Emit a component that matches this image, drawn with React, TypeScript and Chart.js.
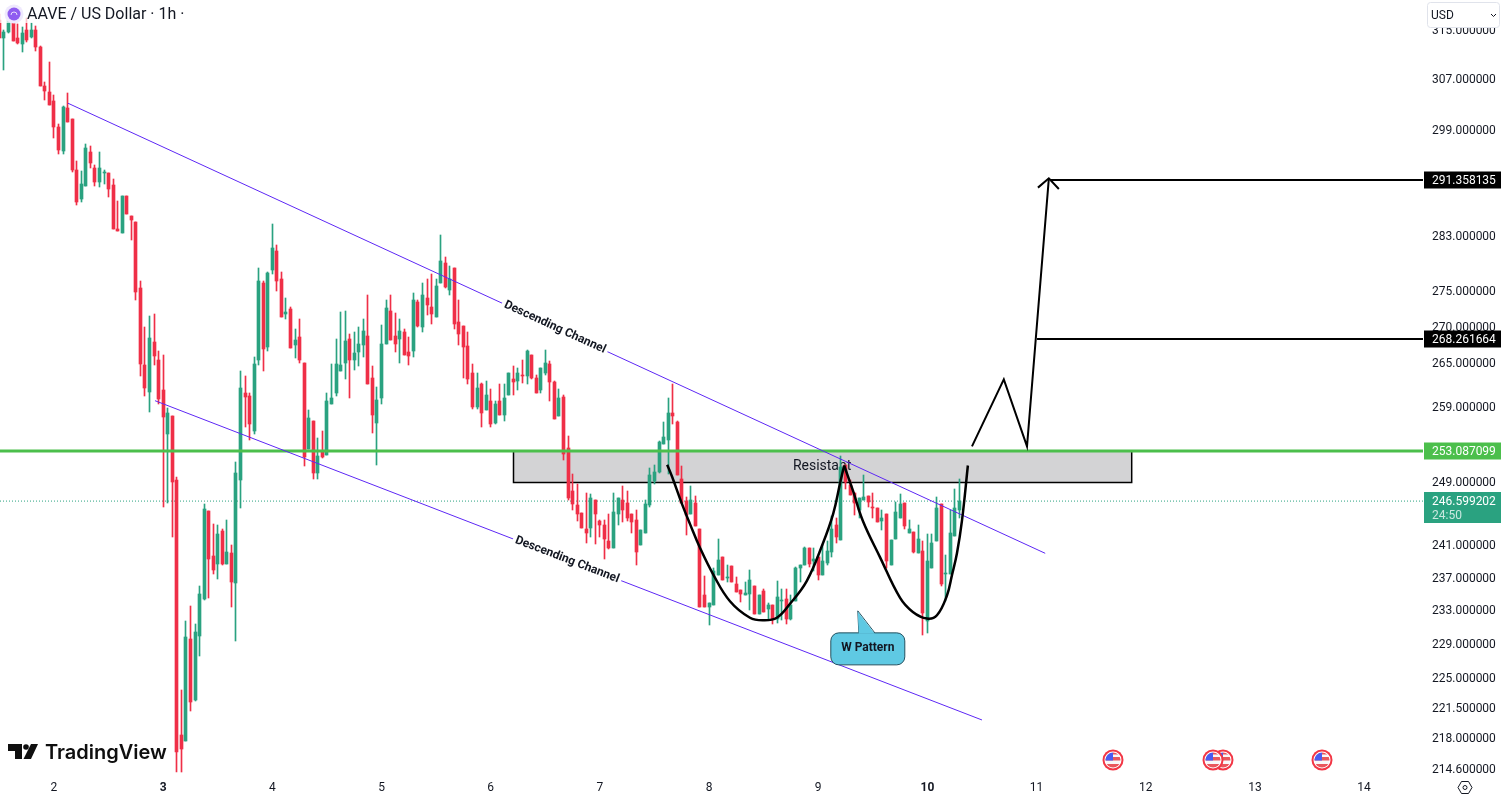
import React, { useEffect, useRef } from "react";
import { Chart, registerables } from "chart.js";

Chart.register(...registerables);

const opens = [316.6,313.6,314.7,316.2,313.6,312.6,314.9,313.8,314.9,312.2,306.0,305.0,303.5,299.5,295.8,302.4,300.7,292.8,288.5,290.4,295.6,293.2,291.0,292.4,292.4,290.6,284.0,283.5,289.0,285.9,285.1,275.5,264.6,261.0,267.8,265.3,261.3,255.4,257.8,249.3,218.4,217.7,229.5,222.4,229.9,234.4,245.3,239.7,238.7,242.8,238.7,240.1,236.3,249.3,260.8,260.5,255.8,265.3,276.2,267.1,278.0,280.8,276.8,271.7,272.4,267.4,268.5,265.0,253.4,257.1,250.2,253.0,252.6,259.4,260.8,263.8,264.9,268.2,265.4,266.4,267.4,268.7,262.9,256.8,260.1,267.5,272.2,268.7,268.2,269.2,266.4,266.6,273.4,269.9,274.1,272.8,271.4,276.2,279.1,275.2,278.3,270.7,270.1,267.3,263.6,259.0,262.0,258.5,259.8,256.8,259.7,257.9,260.6,262.7,262.5,263.3,263.1,266.0,262.9,261.3,263.6,264.8,262.4,257.8,260.3,253.5,247.9,246.1,245.1,243.0,243.2,246.7,244.0,243.6,241.6,240.7,244.9,246.8,246.3,245.0,244.2,241.0,242.5,246.1,249.2,250.4,254.0,254.6,258.2,257.0,249.4,246.6,245.0,246.3,243.1,234.8,233.4,233.6,237.3,239.5,237.0,238.4,236.2,235.5,234.8,235.0,236.0,232.5,235.4,233.2,233.7,232.0,234.1,234.4,232.0,234.1,238.2,238.6,240.7,239.0,239.6,237.3,238.8,240.2,243.5,241.7,251.3,248.7,247.6,245.5,246.8,247.2,245.8,245.7,244.0,245.0,238.5,241.8,244.5,246.3,242.5,242.7,240.1,240.3,231.7,238.2,241.6,246.2,237.4,237.4,242.2,245.4];
const highs = [317.5,314.9,318.0,316.5,315.9,315.4,316.9,316.1,315.6,312.3,306.5,309.7,304.5,299.9,302.7,304.8,300.7,294.2,292.7,296.8,296.5,293.7,295.6,292.8,292.4,291.5,288.2,289.0,289.0,286.0,285.1,276.4,270.0,271.5,271.7,266.6,266.0,258.8,257.8,249.7,223.6,231.7,233.5,231.3,235.9,246.2,245.3,243.7,243.5,243.1,244.2,241.0,251.7,263.9,263.2,260.8,265.7,278.4,276.5,277.8,284.8,281.7,277.8,274.0,272.8,269.6,271.1,265.0,258.6,257.1,254.8,255.8,260.8,264.8,268.2,272.1,272.2,268.9,269.2,269.9,271.1,274.5,264.5,261.6,270.2,273.8,274.5,271.9,271.0,269.6,268.5,274.7,273.7,276.2,276.7,277.4,276.8,283.1,280.0,278.6,278.3,273.7,270.1,269.2,264.8,263.6,262.2,262.5,261.4,259.8,262.0,262.0,263.6,264.5,264.3,265.3,266.7,266.0,263.3,264.2,266.7,265.2,262.5,261.4,260.6,255.1,250.1,248.8,245.1,247.6,247.5,246.7,244.2,244.2,245.0,247.6,247.0,248.5,247.9,245.0,245.4,242.9,246.7,250.9,251.3,254.4,256.9,260.1,262.0,257.1,251.1,247.1,248.6,247.2,243.1,237.2,233.9,238.2,241.8,239.5,238.6,238.4,237.1,235.5,236.5,237.9,236.0,234.8,235.6,233.9,233.7,236.6,235.6,235.6,234.9,238.3,238.6,240.8,240.7,240.7,239.6,241.0,241.6,244.7,244.4,252.5,251.3,249.3,247.6,247.0,250.0,247.2,247.6,245.7,245.4,245.0,241.7,246.5,247.5,246.3,244.2,242.7,243.6,241.6,242.4,242.4,247.1,246.2,239.8,245.5,248.1,249.5];
const lows = [313.6,308.4,314.4,313.1,312.6,311.3,313.0,313.6,311.5,306.0,303.7,302.9,297.7,295.3,295.3,300.2,292.5,287.6,288.0,290.4,293.2,290.4,290.3,290.8,288.8,284.1,283.7,283.5,286.3,282.4,273.7,263.2,260.5,258.3,264.6,259.3,245.8,246.3,242.0,214.2,214.2,217.7,221.1,222.3,227.5,234.3,234.5,237.4,236.8,238.6,238.7,233.4,229.3,245.7,256.3,254.6,255.3,264.6,263.8,266.6,277.4,275.1,271.4,271.0,267.0,265.6,264.9,251.1,253.4,249.4,249.5,252.2,252.6,259.4,260.5,263.8,262.7,260.2,264.0,264.5,265.7,262.0,255.5,251.3,259.3,267.5,268.1,266.4,264.9,266.1,264.6,265.7,270.0,269.2,271.6,270.4,271.4,276.2,275.4,274.5,269.7,267.4,262.9,262.1,258.7,258.7,256.3,258.5,256.3,256.7,257.9,257.1,260.6,260.6,261.2,262.2,262.1,262.7,260.9,260.9,263.3,259.7,257.4,257.8,251.9,246.8,245.5,244.0,243.2,241.3,242.1,241.2,242.0,239.3,240.6,240.7,243.6,243.9,244.0,242.5,238.5,241.0,242.5,245.9,248.8,250.2,254.0,250.1,256.7,250.0,246.3,242.3,245.0,243.4,233.4,233.4,231.2,233.6,237.3,236.7,236.4,236.4,235.2,234.0,234.8,233.0,232.5,232.5,232.8,231.9,231.4,231.5,231.8,231.4,231.8,234.1,236.4,238.5,238.3,237.8,236.7,237.3,238.6,239.6,241.3,241.7,248.1,247.4,244.8,244.4,246.8,245.8,244.5,243.9,242.9,238.2,238.5,241.8,244.5,243.0,242.5,240.1,240.1,230.0,230.3,238.2,241.6,236.0,234.1,237.4,242.2,244.5];
const closes = [313.6,314.7,316.6,313.1,312.8,314.4,313.3,314.9,312.2,306.0,305.1,302.9,299.5,295.9,302.6,300.2,292.8,288.1,290.7,296.3,293.9,291.0,293.2,292.6,290.0,284.1,283.7,289.0,286.3,285.3,274.9,264.8,261.5,268.4,265.9,260.0,257.6,258.2,249.0,216.5,216.8,229.8,222.2,230.4,235.0,245.6,239.3,237.9,242.4,238.7,240.2,236.5,250.2,261.5,260.3,256.7,264.8,276.5,266.8,277.6,281.2,276.4,271.4,272.1,267.0,268.1,265.3,252.3,257.5,250.2,252.5,252.3,259.8,260.2,264.8,264.6,268.0,265.3,266.3,267.5,269.4,262.0,257.9,259.9,267.5,272.6,268.1,267.5,269.4,266.1,265.9,273.7,270.1,274.4,273.1,271.8,275.8,279.4,275.6,276.8,270.3,268.9,267.1,262.8,259.0,261.5,258.2,260.6,256.7,259.4,257.9,260.2,263.5,262.4,263.5,263.2,266.6,262.9,260.9,264.2,264.9,262.4,257.4,260.1,252.7,247.0,246.2,244.9,243.2,242.6,247.0,244.9,243.6,241.8,240.7,245.2,247.0,245.4,244.4,243.9,240.2,242.9,246.2,250.0,250.4,254.3,255.0,258.1,257.8,250.0,246.3,244.8,246.8,243.4,233.4,233.4,233.9,237.8,239.2,236.7,237.1,236.4,235.2,235.0,235.1,236.7,232.5,234.8,232.8,233.7,231.9,234.6,234.2,231.9,233.6,238.2,238.6,240.7,238.7,239.3,237.3,239.0,240.3,243.1,242.0,251.0,249.0,247.4,246.3,247.0,247.1,246.5,245.7,243.9,244.4,239.0,241.7,245.2,246.2,243.4,243.1,240.2,241.8,232.7,239.1,241.3,245.7,236.2,237.6,242.5,245.7,246.599];

const dayLabels = [2, 3, 4, 5, 6, 7, 8, 9, 10, 11, 12, 13, 14];
const dayTicks = [12, 36, 60, 84, 108, 132, 156, 180, 204, 228, 252, 276, 300];
const boldDays = [3, 10];
const priceTicks = [315, 307, 299, 283, 275, 270, 265, 259, 249, 241, 237, 233, 229, 225, 221.5, 218, 214.6];

const xMin = 0.13;
const xMax = 312.95;
const yMin = 213.9;
const yMax = 319.9;

const resistancePrice = 253.087099;
const targetOne = 268.261664;
const targetTwo = 291.358135;
const lastPrice = 246.599202;

const upperChannelX = [15.08, 229.9];
const upperChannelY = [303.2, 240.0];
const lowerChannelX = [34.2, 216.0];
const lowerChannelY = [259.8, 220.1];
const pathX = [213.8, 220.8, 225.9, 230.7];
const pathY = [253.7, 262.7, 253.7, 291.6];
const arrowX = [228.3, 230.7, 232.9];
const arrowY = [290.2, 291.6, 290.0];
const curveAX = [146.8, 147.9, 150.0, 151.8, 154.0, 156.9, 160.6, 165.0, 167.9, 170.9, 173.8, 177.5, 181.0, 183.3, 184.8, 185.7];
const curveAY = [251.3, 249.7, 246.3, 243.7, 240.7, 237.4, 234.1, 232.1, 231.8, 232.1, 233.8, 236.6, 241.2, 245.0, 248.9, 251.2];
const curveBX = [185.7, 187.6, 189.8, 193.6, 198.0, 200.8, 203.9, 206.1, 208.3, 209.4, 210.5, 211.6, 212.9];
const curveBY = [251.2, 248.0, 244.1, 239.5, 234.5, 232.8, 232.0, 232.4, 234.8, 237.3, 240.0, 244.1, 251.2];

const boxX = [112.9, 248.8];
const boxY = [253.1, 249.0];

const GREEN = "#2aa280";
const RED = "#ef2f47";
const TEXT = "#131722";
const VIOLET = "#5d27f5";
const LIME = "#4cbf4c";
const FONT = "Roboto";

const zip = (xs: number[], ys: number[]) => xs.map((x, i) => ({ x, y: ys[i] }));
const line = (data: any[], color: string, width: number, order: number, extra: any = {}) => ({
  type: "line",
  data,
  borderColor: color,
  borderWidth: width,
  pointRadius: 0,
  fill: false,
  tension: 0,
  order,
  ...extra,
});

const snapPlugin = {
  id: "snap",
  beforeDraw(chart: any) {
    chart.scales.y.getLabelItems().forEach((it: any) => {
      it.options.translation[1] = Math.round(it.options.translation[1]) + 1;
    });
  },
  beforeDatasetsDraw(chart: any) {
    chart.getSortedVisibleDatasetMetas().forEach((meta: any) => {
      if (meta.type !== "bar") return;
      meta.data.forEach((el: any) => {
        el.x = Math.round(el.x - 0.5) + 0.5;
        const y = Math.round(el.y);
        let b = Math.round(el.base);
        if (b === y) b = y + 1;
        el.y = y;
        el.base = b;
      });
    });
    const { ctx, scales } = chart;
    const l = scales.x.getPixelForValue(boxX[0]);
    const r = scales.x.getPixelForValue(boxX[1]);
    const t = scales.y.getPixelForValue(boxY[0]);
    const b = Math.round(scales.y.getPixelForValue(boxY[1])) + 0.5;
    ctx.save();
    ctx.fillStyle = "#d3d3d5";
    ctx.fillRect(l, t, r - l, b - t);
    ctx.strokeStyle = "#000";
    ctx.lineWidth = 1.5;
    ctx.strokeRect(Math.round(l) + 0.5, t, r - l, b - t);
    ctx.fillStyle = TEXT;
    ctx.font = `14px ${FONT}`;
    ctx.textAlign = "center";
    ctx.textBaseline = "middle";
    ctx.fillText("Resistant", (l + r) / 2, (t + b) / 2);
    ctx.restore();
  },
};

function roundRect(ctx: any, x: number, y: number, w: number, h: number, r: number) {
  ctx.beginPath();
  ctx.roundRect(x, y, w, h, r);
}

function channelLabel(ctx: any, scales: any, xVal: number, yVal: number, angle: number) {
  const px = scales.x.getPixelForValue(xVal);
  const py = scales.y.getPixelForValue(yVal);
  ctx.save();
  ctx.translate(px, py);
  ctx.rotate(angle);
  ctx.fillStyle = "#fff";
  ctx.fillRect(-58, -8, 116, 16);
  ctx.fillStyle = TEXT;
  ctx.font = `bold 12px ${FONT}`;
  ctx.textAlign = "center";
  ctx.textBaseline = "middle";
  ctx.fillText("Descending Channel", 0, 0);
  ctx.restore();
}

function priceTag(ctx: any, scales: any, price: number, color: string) {
  const y = Math.round(scales.y.getPixelForValue(price));
  ctx.fillStyle = color;
  ctx.fillRect(1424, y - 8.5, 77, 17);
  ctx.fillStyle = "#fff";
  ctx.font = `12px ${FONT}`;
  ctx.textAlign = "left";
  ctx.textBaseline = "middle";
  ctx.fillText(price.toFixed(6), 1432, y + 0.5);
}

function flag(ctx: any, cx: number, cy: number) {
  ctx.save();
  ctx.beginPath();
  ctx.arc(cx, cy, 10.5, 0, Math.PI * 2);
  ctx.fillStyle = "#f23645";
  ctx.fill();
  ctx.beginPath();
  ctx.arc(cx, cy, 8.5, 0, Math.PI * 2);
  ctx.fillStyle = "#fff";
  ctx.fill();
  ctx.beginPath();
  ctx.arc(cx, cy, 7.5, 0, Math.PI * 2);
  ctx.clip();
  ctx.fillStyle = "#f8f8f8";
  ctx.fillRect(cx - 8, cy - 8, 16, 16);
  ctx.fillStyle = "#e9575c";
  ctx.fillRect(cx - 8, cy - 3, 16, 3.5);
  ctx.fillRect(cx - 8, cy + 4, 16, 4);
  ctx.fillRect(cx, cy - 8, 8, 2.5);
  ctx.fillStyle = "#4a5bf0";
  ctx.fillRect(cx - 8, cy - 8, 8, 8.5);
  ctx.restore();
}

const overlayPlugin = {
  id: "overlay",
  afterDraw(chart: any) {
    const { ctx, scales } = chart;
    ctx.save();

    channelLabel(ctx, scales, 122.1, 269.9, 0.431);
    channelLabel(ctx, scales, 124.8, 239.2, 0.368);

    const cx = scales.x.getPixelForValue(190.9);
    const cy = scales.y.getPixelForValue(228.5);
    ctx.beginPath();
    ctx.roundRect(cx - 37, cy - 15, 74, 32, 8);
    ctx.fillStyle = "#5fc9e3";
    ctx.strokeStyle = "#24505f";
    ctx.lineWidth = 1;
    ctx.fill();
    ctx.stroke();
    ctx.beginPath();
    ctx.moveTo(cx - 9, cy - 15);
    ctx.lineTo(cx - 10, cy - 37);
    ctx.lineTo(cx + 7, cy - 15);
    ctx.stroke();
    ctx.beginPath();
    ctx.moveTo(cx - 9, cy - 14);
    ctx.lineTo(cx - 10, cy - 36);
    ctx.lineTo(cx + 7, cy - 14);
    ctx.closePath();
    ctx.fill();
    ctx.fillStyle = TEXT;
    ctx.font = `bold 12px ${FONT}`;
    ctx.textAlign = "center";
    ctx.textBaseline = "middle";
    ctx.fillText("W Pattern", cx, cy);

    priceTag(ctx, scales, targetTwo, "#000");
    priceTag(ctx, scales, targetOne, "#000");
    priceTag(ctx, scales, resistancePrice, LIME);
    const ly = Math.round(scales.y.getPixelForValue(lastPrice));
    ctx.fillStyle = GREEN;
    ctx.fillRect(1424, ly - 9, 77, 31);
    ctx.fillStyle = "#fff";
    ctx.font = `12px ${FONT}`;
    ctx.textAlign = "left";
    ctx.textBaseline = "middle";
    ctx.fillText(lastPrice.toFixed(6), 1432, ly + 0.5);
    ctx.fillStyle = "rgba(255,255,255,0.75)";
    ctx.fillText("24:50", 1432, ly + 15);

    ctx.fillStyle = "rgba(255,255,255,0.72)";
    ctx.fillRect(0, 3, 188, 20);
    ctx.beginPath();
    ctx.arc(14, 14, 9.5, 0, Math.PI * 2);
    ctx.fillStyle = "#efe9fd";
    ctx.fill();
    ctx.beginPath();
    ctx.arc(14, 14, 6.5, 0, Math.PI * 2);
    ctx.fillStyle = "#8f5cf0";
    ctx.fill();
    ctx.beginPath();
    ctx.arc(14, 15, 3, Math.PI, 0);
    ctx.strokeStyle = "#e8dcfb";
    ctx.lineWidth = 1;
    ctx.stroke();
    ctx.fillStyle = TEXT;
    ctx.font = `16px ${FONT}`;
    ctx.textAlign = "left";
    ctx.textBaseline = "middle";
    ctx.fillText("AAVE / US Dollar · 1h ·", 27, 14.5);

    ctx.fillStyle = "#fff";
    ctx.fillRect(1424, 0, 77, 28);
    roundRect(ctx, 1427.5, 2.5, 72, 25, 3);
    ctx.strokeStyle = "#e0e3eb";
    ctx.stroke();
    ctx.fillStyle = TEXT;
    ctx.font = `12px ${FONT}`;
    ctx.fillText("USD", 1431, 15.5);
    ctx.beginPath();
    ctx.moveTo(1491, 14);
    ctx.lineTo(1493.5, 16.5);
    ctx.lineTo(1496, 14);
    ctx.strokeStyle = TEXT;
    ctx.lineWidth = 1;
    ctx.stroke();

    ctx.fillStyle = "#0f0f0f";
    ctx.beginPath();
    ctx.moveTo(8, 744);
    ctx.lineTo(22, 744);
    ctx.lineTo(22, 759);
    ctx.lineTo(15, 759);
    ctx.lineTo(15, 751);
    ctx.lineTo(8, 751);
    ctx.closePath();
    ctx.fill();
    ctx.beginPath();
    ctx.arc(26, 747, 2.8, 0, Math.PI * 2);
    ctx.fill();
    ctx.beginPath();
    ctx.moveTo(31, 744);
    ctx.lineTo(38, 744);
    ctx.lineTo(31, 759);
    ctx.lineTo(23.5, 759);
    ctx.closePath();
    ctx.fill();
    ctx.font = `600 20px Inter`;
    ctx.textBaseline = "alphabetic";
    ctx.fillText("TradingView", 45, 759);

    flag(ctx, 1113, 760);
    flag(ctx, 1223, 760);
    flag(ctx, 1213, 760);
    flag(ctx, 1322, 760);

    ctx.strokeStyle = TEXT;
    ctx.lineWidth = 1;
    ctx.beginPath();
    ctx.moveTo(1458, 787.5);
    ctx.lineTo(1461.5, 781.5);
    ctx.lineTo(1468.5, 781.5);
    ctx.lineTo(1472, 787.5);
    ctx.lineTo(1468.5, 793.5);
    ctx.lineTo(1461.5, 793.5);
    ctx.closePath();
    ctx.stroke();
    ctx.beginPath();
    ctx.arc(1465, 787.5, 2, 0, Math.PI * 2);
    ctx.stroke();

    ctx.restore();
  },
};

export default function App() {
  const ref = useRef<HTMLCanvasElement>(null);

  useEffect(() => {
    const hours = opens.map((_, i) => i);
    const colors = opens.map((o, i) => (closes[i] >= o ? GREEN : RED));
    const chart = new Chart(ref.current as any, {
      type: "bar",
      data: {
        datasets: [
          line(zip(pathX, pathY), "#000", 2, 1),
          line(zip(arrowX, arrowY), "#000", 2, 1),
          line(zip([231, xMax], [targetTwo, targetTwo]), "#000", 2, 1),
          line(zip([228.1, xMax], [targetOne, targetOne]), "#000", 2, 1),
          line(zip(curveAX, curveAY), "#000", 2.5, 1, { tension: 0.4 }),
          line(zip(curveBX, curveBY), "#000", 2.5, 1, { tension: 0.4 }),
          line(zip(upperChannelX, upperChannelY), VIOLET, 1, 2),
          line(zip(lowerChannelX, lowerChannelY), VIOLET, 1, 2),
          line(zip([xMin, xMax], [resistancePrice, resistancePrice]), LIME, 3, 2),
          {
            type: "bar",
            data: hours.map((x) => ({ x, y: [opens[x], closes[x]] })),
            backgroundColor: colors,
            barThickness: 3,
            grouped: false,
            borderWidth: 0,
            order: 3,
          },
          {
            type: "bar",
            data: hours.map((x) => ({ x, y: [lows[x], highs[x]] })),
            backgroundColor: colors,
            barThickness: 1,
            grouped: false,
            borderWidth: 0,
            order: 4,
          },
          line(zip([xMin, xMax], [lastPrice, lastPrice]), GREEN, 1, 5, { borderDash: [1, 2] }),
        ] as any,
      },
      options: {
        responsive: false,
        animation: false,
        devicePixelRatio: 1,
        layout: { padding: 0 },
        plugins: { legend: { display: false }, tooltip: { enabled: false } },
        scales: {
          x: {
            type: "linear",
            offset: false,
            min: xMin,
            max: xMax,
            grid: { display: false, drawTicks: false },
            border: { display: false },
            afterBuildTicks: (s: any) => {
              s.ticks = dayTicks.map((value) => ({ value }));
            },
            afterFit: (s: any) => {
              s.height = 23;
              s.paddingLeft = s.paddingRight = s.paddingTop = s.paddingBottom = 0;
            },
            ticks: {
              autoSkip: false,
              maxRotation: 0,
              padding: 6,
              color: TEXT,
              font: (c: any) => {
                const d = dayLabels[dayTicks.indexOf(c.tick?.value)];
                return { family: FONT, size: 12, weight: boldDays.includes(d) ? "bold" : "normal" };
              },
              callback: (v: any) => String(dayLabels[dayTicks.indexOf(v)]),
            },
          },
          y: {
            type: "logarithmic",
            position: "right",
            min: yMin,
            max: yMax,
            grid: { display: false, drawTicks: false },
            border: { display: false },
            afterBuildTicks: (s: any) => {
              s.ticks = priceTicks.map((value) => ({ value }));
            },
            afterFit: (s: any) => {
              s.width = 78;
              s.paddingLeft = s.paddingRight = s.paddingTop = s.paddingBottom = 0;
            },
            ticks: {
              autoSkip: false,
              padding: 9,
              color: TEXT,
              font: { family: FONT, size: 12 },
              callback: (v: any) => Number(v).toFixed(6),
            },
          },
        },
      } as any,
      plugins: [snapPlugin, overlayPlugin],
    } as any);
    return () => chart.destroy();
  }, []);

  return (
    <div style={{ position: "fixed", left: 0, top: 0, width: 1501, height: 798, background: "#fff" }}>
      <canvas ref={ref} width={1501} height={798} style={{ display: "block" }} />
    </div>
  );
}
